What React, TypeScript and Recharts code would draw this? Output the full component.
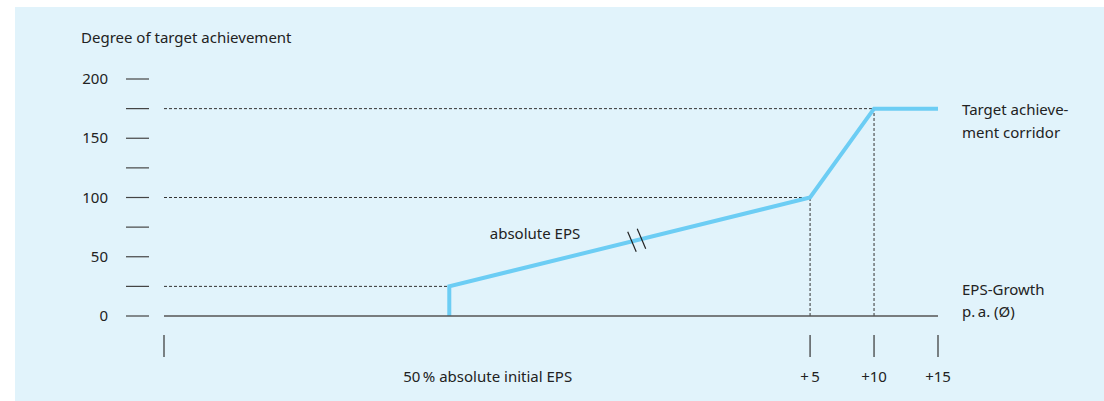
import React from "react";
import {
  LineChart,
  Line,
  XAxis,
  YAxis,
  ReferenceLine,
  ReferenceDot,
} from "recharts";

// line corners (EPS growth p.a. in %, degree of target achievement in %)
const growth = [-23.2, -23.2, 5, 10, 15];
const achievement = [0, 25, 100, 175, 175];

const xTicks = [-45.5, -20.2, 5, 10, 15];
const xTickLabels = ["", "50\u2009% absolute initial EPS", "+\u20095", "+10", "+15"];
const xTickMarks = [true, false, true, true, true];

const yTicks = [0, 25, 50, 75, 100, 125, 150, 175, 200];
const yTickLabels = ["0", "", "50", "", "100", "", "150", "", "200"];

const data = growth.map((x, i) => ({ x, y: achievement[i] }));

const FONT = "'Noto Sans', 'Open Sans', sans-serif";
const FS = 15;
const TEXT = "#222";
const BLUE = "#6ccdf4";

const XTick = (props: any) => {
  const { x, y, payload } = props;
  const i = xTicks.indexOf(payload.value);
  return (
    <g>
      {xTickMarks[i] && (
        <line x1={x} x2={x} y1={y + 19} y2={y + 41} stroke="#333" strokeWidth={1.2} />
      )}
      <text x={x} y={y + 66} textAnchor="middle" fontSize={FS} fontFamily={FONT} fill={TEXT}>
        {xTickLabels[i]}
      </text>
    </g>
  );
};

const YTick = (props: any) => {
  const { x, y, payload } = props;
  const i = yTicks.indexOf(payload.value);
  return (
    <g>
      <line x1={x - 38} x2={x - 15} y1={y} y2={y} stroke="#444" strokeWidth={1.2} />
      <text x={x - 56} y={y + 5} textAnchor="end" fontSize={FS} fontFamily={FONT} fill={TEXT}>
        {yTickLabels[i]}
      </text>
    </g>
  );
};

// point on the line, used to place the break mark
const breakX = -8.55;
const lineAt = (x: number) => {
  for (let i = 1; i < growth.length; i++) {
    if (x <= growth[i] && growth[i] > growth[i - 1]) {
      const t = (x - growth[i - 1]) / (growth[i] - growth[i - 1]);
      return achievement[i - 1] + t * (achievement[i] - achievement[i - 1]);
    }
  }
  return achievement[achievement.length - 1];
};

const dotted = { stroke: "#333", strokeDasharray: "3 2", strokeWidth: 1 };

export default function App() {
  return (
    <div
      style={{
        position: "absolute",
        left: 15,
        top: 7,
        width: 1089,
        height: 394,
        background: "#e1f3fb",
        fontFamily: FONT,
      }}
    >
      <div
        style={{
          position: "absolute",
          left: 66,
          top: 20,
          fontSize: FS,
          color: TEXT,
        }}
      >
        Degree of target achievement
      </div>
      <LineChart
        width={1089}
        height={394}
        data={data}
        margin={{ top: 72, right: 166, left: 0, bottom: 15 }}
      >
        <XAxis
          dataKey="x"
          type="number"
          domain={[-45.5, 15]}
          ticks={xTicks}
          interval={0}
          tickLine={false}
          tickSize={0}
          tickMargin={0}
          height={70}
          axisLine={{ stroke: "#555", strokeWidth: 1.5 }}
          tick={<XTick />}
        />
        <YAxis
          type="number"
          domain={[0, 200]}
          ticks={yTicks}
          interval={0}
          width={149}
          axisLine={false}
          tickLine={false}
          tickSize={0}
          tickMargin={0}
          tick={<YTick />}
        />
        <ReferenceLine segment={[{ x: -45.5, y: 175 }, { x: 10, y: 175 }]} {...dotted} />
        <ReferenceLine segment={[{ x: -45.5, y: 100 }, { x: 5, y: 100 }]} {...dotted} />
        <ReferenceLine segment={[{ x: -45.5, y: 25 }, { x: -23.2, y: 25 }]} {...dotted} />
        <ReferenceLine segment={[{ x: 5, y: 0 }, { x: 5, y: 100 }]} {...dotted} />
        <ReferenceLine segment={[{ x: 10, y: 0 }, { x: 10, y: 175 }]} {...dotted} />
        <Line
          dataKey="y"
          type="linear"
          stroke={BLUE}
          strokeWidth={4}
          dot={false}
          activeDot={false}
          isAnimationActive={false}
        />
        <ReferenceDot
          x={breakX}
          y={lineAt(breakX)}
          r={0}
          shape={(p: any) => (
            <g stroke="#222" strokeWidth={1.2}>
              <line x1={p.cx - 9} y1={p.cy - 8.5} x2={p.cx - 0.5} y2={p.cy + 11.5} />
              <line x1={p.cx + 0.5} y1={p.cy - 11.5} x2={p.cx + 9} y2={p.cy + 8.5} />
            </g>
          )}
        />
        <ReferenceDot
          x={-16.5}
          y={65}
          r={0}
          shape={(p: any) => (
            <text x={p.cx} y={p.cy} textAnchor="middle" fontSize={FS} fontFamily={FONT} fill={TEXT}>
              absolute EPS
            </text>
          )}
        />
        <ReferenceDot
          x={15}
          y={175}
          r={0}
          shape={(p: any) => (
            <text x={p.cx + 24} y={p.cy + 6} fontSize={FS} fontFamily={FONT} fill={TEXT}>
              <tspan x={p.cx + 24}>Target achieve-</tspan>
              <tspan x={p.cx + 24} dy={23}>ment corridor</tspan>
            </text>
          )}
        />
        <ReferenceDot
          x={15}
          y={0}
          r={0}
          shape={(p: any) => (
            <text x={p.cx + 24} y={p.cy - 21} fontSize={FS} fontFamily={FONT} fill={TEXT}>
              <tspan x={p.cx + 24}>EPS-Growth</tspan>
              <tspan x={p.cx + 24} dy={22}>p.{"\u2009"}a. (Ø)</tspan>
            </text>
          )}
        />
      </LineChart>
    </div>
  );
}
